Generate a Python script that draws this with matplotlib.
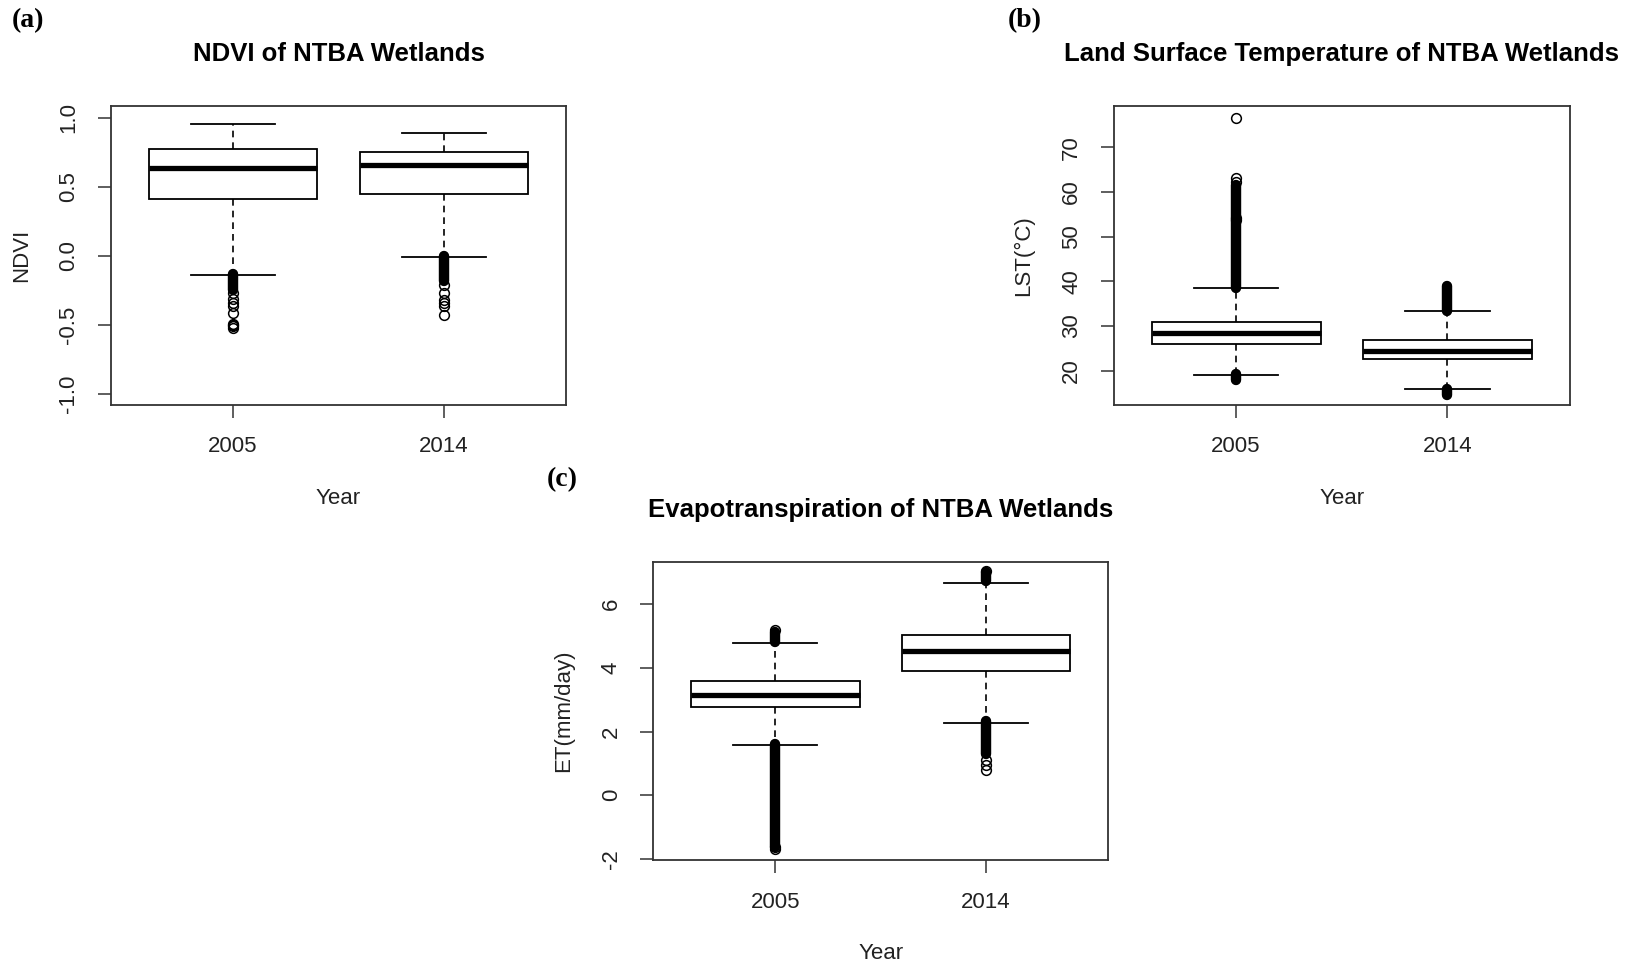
import matplotlib
matplotlib.use('Agg')
from matplotlib import pyplot as plt

plt.rcParams['font.family'] = ['Liberation Sans', 'DejaVu Sans']

years = ['2005', '2014']
positions = [1, 2]

# NDVI
ndvi_whislo = [-0.14, -0.01]
ndvi_q1 = [0.41, 0.45]
ndvi_med = [0.635, 0.66]
ndvi_q3 = [0.775, 0.752]
ndvi_whishi = [0.95, 0.885]
ndvi_fliers = [[-0.27, -0.31, -0.34, -0.36, -0.41, -0.49, -0.50, -0.51, -0.52],
               [-0.21, -0.27, -0.32, -0.34, -0.36, -0.43]]
ndvi_dense = [[(-0.25, -0.13)], [(-0.18, 0.0)]]

# Land surface temperature
lst_whislo = [19.0, 15.9]
lst_q1 = [26.0, 22.7]
lst_med = [28.5, 24.5]
lst_q3 = [30.9, 26.9]
lst_whishi = [38.4, 33.4]
lst_fliers = [[76.5, 63.0, 62.3, 54.2, 53.8], []]
lst_dense = [[(38.6, 61.6), (17.9, 19.3)], [(33.3, 39.0), (14.5, 16.0)]]

# Evapotranspiration
et_whislo = [1.57, 2.28]
et_q1 = [2.76, 3.91]
et_med = [3.16, 4.52]
et_q3 = [3.58, 5.03]
et_whishi = [4.78, 6.66]
et_fliers = [[-1.62, -1.70, 5.18], [1.10, 0.95, 0.80, 7.05]]
et_dense = [[(-1.62, 1.60), (4.80, 5.12)], [(6.72, 7.0), (1.30, 2.32)]]

panels = [
    dict(label='(a)', title='NDVI of NTBA Wetlands', ylabel='NDVI',
         lo=ndvi_whislo, q1=ndvi_q1, med=ndvi_med, q3=ndvi_q3, hi=ndvi_whishi,
         fliers=ndvi_fliers, dense=ndvi_dense,
         ylim=(-1.08, 1.08), yticks=[-1.0, -0.5, 0.0, 0.5, 1.0],
         ytl=['-1.0', '-0.5', '0.0', '0.5', '1.0'],
         rect=[0.0676, 0.5814, 0.2781, 0.3086], tag=(28, 21)),
    dict(label='(b)', title='Land Surface Temperature of NTBA Wetlands', ylabel='LST(°C)',
         lo=lst_whislo, q1=lst_q1, med=lst_med, q3=lst_q3, hi=lst_whishi,
         fliers=lst_fliers, dense=lst_dense,
         ylim=(12.3, 79.1), yticks=[20, 30, 40, 50, 60, 70],
         ytl=['20', '30', '40', '50', '60', '70'],
         rect=[0.6798, 0.5814, 0.2787, 0.3086], tag=(1025, 21)),
    dict(label='(c)', title='Evapotranspiration of NTBA Wetlands', ylabel='ET(mm/day)',
         lo=et_whislo, q1=et_q1, med=et_med, q3=et_q3, hi=et_whishi,
         fliers=et_fliers, dense=et_dense,
         ylim=(-2.05, 7.33), yticks=[-2, 0, 2, 4, 6],
         ytl=['-2', '0', '2', '4', '6'],
         rect=[0.3986, 0.1111, 0.2781, 0.3085], tag=(562, 480)),
]

fig = plt.figure(figsize=(16.38, 9.68), dpi=100)
txt = '#222222'

for p in panels:
    ax = fig.add_axes(p['rect'])
    stats = []
    for i in range(2):
        stats.append(dict(label=years[i], med=p['med'][i], q1=p['q1'][i], q3=p['q3'][i],
                          whislo=p['lo'][i], whishi=p['hi'][i], fliers=p['fliers'][i]))
    ax.bxp(stats, positions=positions, widths=0.8, capwidths=0.4, showfliers=True,
           patch_artist=True,
           boxprops=dict(facecolor='white', edgecolor='black', linewidth=1.3),
           medianprops=dict(color='black', linewidth=3.8, solid_capstyle='butt'),
           whiskerprops=dict(color='black', linewidth=1.2, linestyle=(0, (4, 3))),
           capprops=dict(color='black', linewidth=1.3),
           flierprops=dict(marker='o', markerfacecolor='none', markeredgecolor='black',
                           markersize=7, markeredgewidth=1.1))
    # dense runs of outliers merge into solid bars
    for i in range(2):
        for lo, hi in p['dense'][i]:
            ax.plot([positions[i], positions[i]], [lo, hi], color='black', lw=7.5,
                    solid_capstyle='round', zorder=3)

    ax.set_xlim(0.42, 2.58)
    ax.set_ylim(*p['ylim'])
    ax.set_xticks(positions)
    ax.set_xticklabels(years)
    ax.set_yticks(p['yticks'])
    ax.set_yticklabels(p['ytl'], rotation=90, va='center')
    ax.tick_params(direction='out', length=9.5, width=1.1, pad=13, labelsize=16,
                   labelcolor=txt, color='#333333')
    for s in ax.spines.values():
        s.set_linewidth(1.3)
        s.set_color('#333333')

    ax.text(0.5, 1.175, p['title'], transform=ax.transAxes, ha='center', va='center',
            fontsize=18.5, fontweight='bold', color='black')
    ax.text(-0.196, 0.5, p['ylabel'], transform=ax.transAxes, ha='center', va='center',
            rotation=90, fontsize=16, color=txt)
    ax.text(0.5, -0.311, 'Year', transform=ax.transAxes, ha='center', va='center',
            fontsize=16, color=txt)

    fig.text(p['tag'][0] / 1638, 1 - p['tag'][1] / 968, p['label'], ha='center', va='center',
             fontsize=20, fontweight='bold', family=['Liberation Serif', 'DejaVu Serif'])

fig.savefig('out.png', dpi=100, facecolor='white')
